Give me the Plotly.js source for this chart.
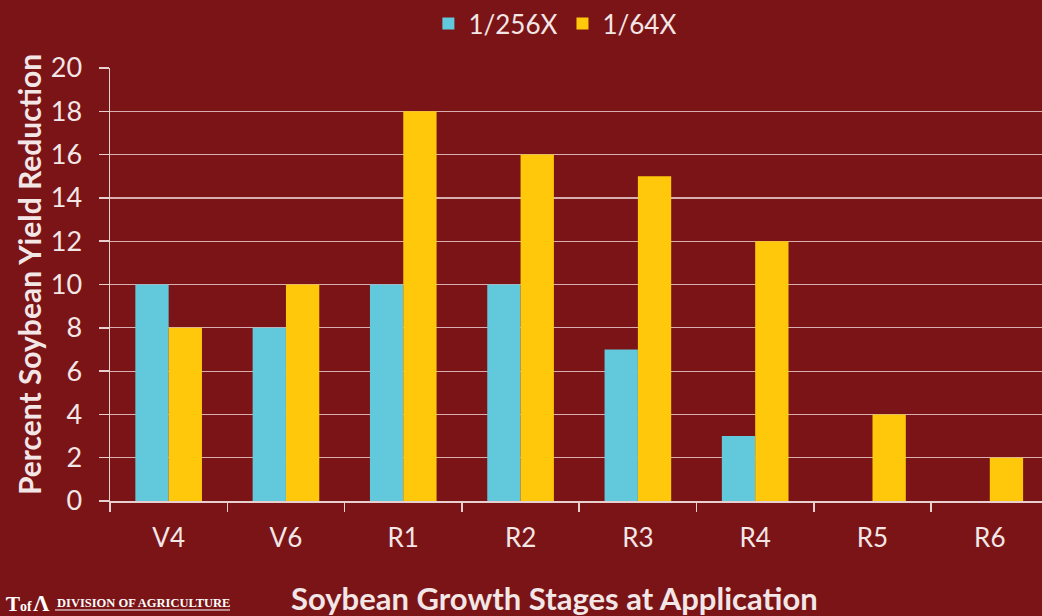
<!DOCTYPE html>
<html>
<head>
<meta charset="utf-8">
<script src="https://cdn.plot.ly/plotly-3.0.1.min.js"></script>
<style>html,body{margin:0;padding:0;background:#7b1416;}#chart{width:1042px;height:616px;}</style>
</head>
<body>
<div id="chart"></div>
<script>
const categories = ["V4", "V6", "R1", "R2", "R3", "R4", "R5", "R6"];
const series1Name = "1/256X";
const series1 = [10, 8, 10, 10, 7, 3, 0, 0];
const series2Name = "1/64X";
const series2 = [8, 10, 18, 16, 15, 12, 4, 2];
const yTicks = [0, 2, 4, 6, 8, 10, 12, 14, 16, 18, 20];
const xTitle = "Soybean Growth Stages at Application";
const yTitle = "Percent Soybean Yield Reduction";

const bg = "#7b1416";
const txt = "#f3e6e6";
const font = "Lato, 'Open Sans', sans-serif";

const data = [
  {type: "bar", name: series1Name, x: categories, y: series1, marker: {color: "#62c8dc"}},
  {type: "bar", name: series2Name, x: categories, y: series2, marker: {color: "#ffc80a"}}
];

const layout = {
  width: 1042, height: 616,
  paper_bgcolor: bg, plot_bgcolor: bg,
  margin: {l: 110, r: 0, t: 68, b: 115},
  barmode: "group", bargap: 0.432, bargroupgap: 0,
  font: {family: font, color: txt, size: 20},
  showlegend: true,
  legend: {orientation: "h", xref: "container", x: 0.533, xanchor: "center",
           yref: "container", y: 1.0, yanchor: "top",
           font: {size: 26, color: txt}, traceorder: "normal", itemwidth: 30},
  xaxis: {
    type: "category", range: [-0.5, 7.445],
    showline: true, linecolor: "#e8d0d0", linewidth: 1.5,
    ticks: "outside", tickson: "boundaries", ticklen: 9, tickcolor: "#e8d0d0", tickwidth: 1.5,
    tickfont: {size: 26, color: txt}, showgrid: false, ticklabelstandoff: 13
  },
  yaxis: {
    range: [0, 20], tickvals: yTicks, ticktext: yTicks.map(String),
    showline: true, linecolor: "#e8d0d0", linewidth: 1.5,
    ticks: "outside", ticklen: 10, tickcolor: "#e8d0d0", tickwidth: 1.5,
    showgrid: true, gridcolor: "#d9aeb0", gridwidth: 1.2, zeroline: false,
    tickfont: {size: 27, color: txt}, ticklabelstandoff: 11
  },
  annotations: [
    {xref: "paper", yref: "paper", x: 0.4764, y: -0.224, xanchor: "center", yanchor: "middle", showarrow: false,
     text: "<b>" + xTitle + "</b>", font: {size: 31, color: txt}},
    {xref: "paper", yref: "paper", x: -0.0868, y: 0.522, xanchor: "center", yanchor: "middle", showarrow: false,
     textangle: -90, text: "<b>" + yTitle + "</b>", font: {size: 30, color: txt}},
    {xref: "paper", yref: "paper", x: -0.059, y: -0.2356, xanchor: "left", yanchor: "middle", showarrow: false,
     text: "<b>DIVISION OF AGRICULTURE</b>", font: {family: "'Liberation Serif', 'DejaVu Serif', serif", size: 12.5, color: "#ffffff"}},
    {xref: "paper", yref: "paper", x: -0.1137, y: -0.238, xanchor: "left", yanchor: "middle", showarrow: false,
     text: "<b>Ƭ<span style='font-size:14px'>of</span></b>", font: {family: "'Liberation Serif', serif", size: 21, color: "#ffffff"}},
    {xref: "paper", yref: "paper", x: -0.0848, y: -0.236, xanchor: "left", yanchor: "middle", showarrow: false,
     text: "<b>Λ</b>", font: {family: "'Liberation Serif', serif", size: 23, color: "#ffffff"}}
  ],
  shapes: [
    {type: "line", xref: "paper", yref: "paper", x0: -0.059, x1: 0.1288, y0: -0.2517, y1: -0.2517,
     line: {color: "#ffffff", width: 1}}
  ]
};

Plotly.newPlot("chart", data, layout, {displayModeBar: false, staticPlot: true});
</script>
</body>
</html>
